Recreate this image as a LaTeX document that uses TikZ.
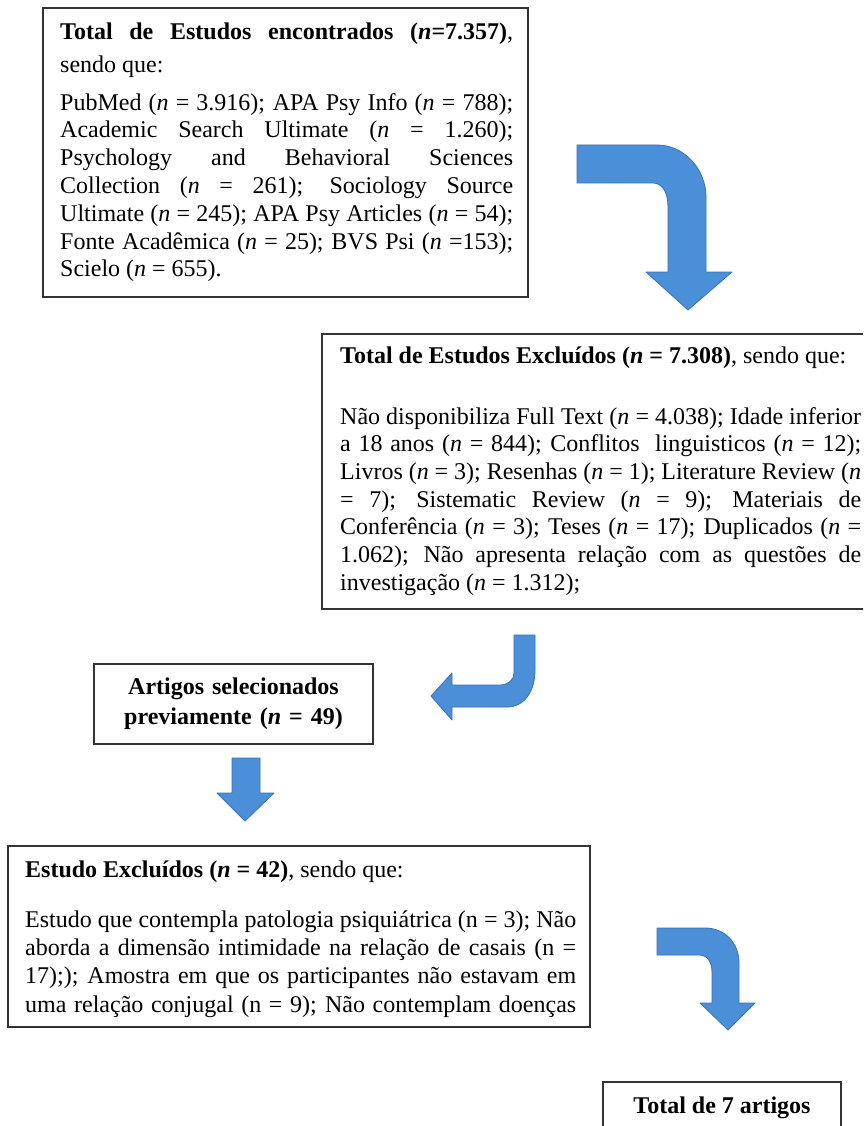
\documentclass[tikz,border=0pt]{standalone}
\usepackage{fontspec}
\setmainfont{Liberation Serif}
\definecolor{arrowblue}{HTML}{4A8FD8}
\definecolor{arrowedge}{HTML}{3873B8}
\begin{document}
\begin{tikzpicture}[x=1pt,y=-1pt,
  frame/.style={draw=black!80, line width=1.5pt, fill=white, anchor=north west, inner sep=0pt, outer sep=0pt},
  txt/.style={anchor=north west, inner sep=0pt, align=justify},
  blockarrow/.style={fill=arrowblue, draw=arrowedge, line width=0.8pt, line join=round}]
\useasboundingbox (0,0) rectangle (863,1126);
\clip (0,0) rectangle (863,1126);
\fill[white] (0,0) rectangle (863,1126);

% Box 1
\node[frame, minimum width=485pt, minimum height=289pt] (b1) at (43,8) {};
\node[txt, text width=453pt, font=\fontsize{24}{33}\selectfont] (t1a) at (60,15.9)
  {\strut\textbf{Total de Estudos encontrados (\textit{n}=7.357)},\linebreak sendo que:};
\node[txt, text width=453pt, font=\fontsize{24}{27.8}\selectfont] (t1b) at (60,90.5)
  {\strut PubMed (\textit{n} = 3.916); APA Psy Info (\textit{n} = 788);\linebreak
   Academic Search Ultimate (\textit{n} = 1.260);\linebreak
   Psychology and Behavioral Sciences\linebreak
   Collection (\textit{n} = 261); Sociology Source\linebreak
   Ultimate (\textit{n} = 245); APA Psy Articles (\textit{n} = 54);\linebreak
   Fonte Acadêmica (\textit{n} = 25); BVS Psi (\textit{n} =153);\linebreak
   Scielo (\textit{n} = 655).};

% Box 2
\node[frame, minimum width=578pt, minimum height=275pt] (b2) at (322,334) {};
\node[txt, text width=521pt, font=\fontsize{24}{27.7}\selectfont] (t2a) at (340,343.6)
  {\strut\textbf{Total de Estudos Excluídos (\textit{n} = 7.308)}, sendo que:};
\node[txt, text width=521pt, font=\fontsize{24}{27.7}\selectfont] (t2b) at (340,404.6)
  {\strut Não disponibiliza Full Text (\textit{n} = 4.038); Idade inferior\linebreak
   a 18 anos (\textit{n} = 844); Conflitos\ \ linguisticos (\textit{n} = 12);\linebreak
   Livros (\textit{n} = 3); Resenhas (\textit{n} = 1); Literature Review (\textit{n}\linebreak
   = 7); Sistematic Review (\textit{n} = 9); Materiais de\linebreak
   Conferência (\textit{n} = 3); Teses (\textit{n} = 17); Duplicados (\textit{n} =\linebreak
   1.062); Não apresenta relação com as questões de\linebreak
   investigação (\textit{n} = 1.312);};

% Box 3
\node[frame, anchor=center, minimum width=279pt, minimum height=80pt, text width=270pt, align=center,
      font=\fontsize{24}{30}\selectfont\bfseries] (b3) at (233.5,704)
  {Artigos selecionados\\ previamente (\textit{n} = 49)};

% Box 4
\node[frame, minimum width=582pt, minimum height=181pt] (b4) at (8,846) {};
\node[txt, text width=551pt, font=\fontsize{24}{28.3}\selectfont] (t4a) at (25,857.2)
  {\strut\textbf{Estudo Excluídos (\textit{n} = 42)}, sendo que:};
\node[txt, text width=551pt, font=\fontsize{24}{28.3}\selectfont] (t4b) at (25,907.2)
  {\strut Estudo que contempla patologia psiquiátrica (n = 3); Não\linebreak
   aborda a dimensão intimidade na relação de casais (n =\linebreak
   17);); Amostra em que os participantes não estavam em\linebreak
   uma relação conjugal (n = 9); Não contemplam doenças\parfillskip=0pt\par};

% Box 5
\node[frame, minimum width=238pt, minimum height=70pt] (b5) at (603,1082) {};
\node[anchor=base, inner sep=0pt, font=\fontsize{24}{28}\selectfont\bfseries] (t5) at (722,1113)
  {Total de 7 artigos};

% Block arrows
\draw[blockarrow] (577,145) -- (657,145) .. controls (685,145) and (706,170) .. (706,197)
  -- (706,272) -- (732,272) -- (688,310) -- (646,272) -- (668,272) -- (668,207)
  .. controls (668,192) and (662,183) .. (653,183) -- (577,183) -- cycle;

\draw[blockarrow] (514,635) -- (535,635) -- (535,670) .. controls (535,692) and (524,707) .. (507,707)
  -- (452,707) -- (452,720) -- (431,696) -- (452,673) -- (452,685) -- (500,685)
  .. controls (508,685) and (514,680) .. (514,673) -- cycle;

\draw[blockarrow] (232,758) -- (260,758) -- (260,793) -- (274,793) -- (245,821) -- (217,793)
  -- (232,793) -- cycle;

\draw[blockarrow] (657,928) -- (705,928) .. controls (725,928) and (739,943) .. (739,963)
  -- (739,1003) -- (755,1003) -- (728,1030) -- (700,1003) -- (712,1003) -- (712,972)
  .. controls (712,962) and (707,955) .. (700,955) -- (657,955) -- cycle;
\end{tikzpicture}
\end{document}
